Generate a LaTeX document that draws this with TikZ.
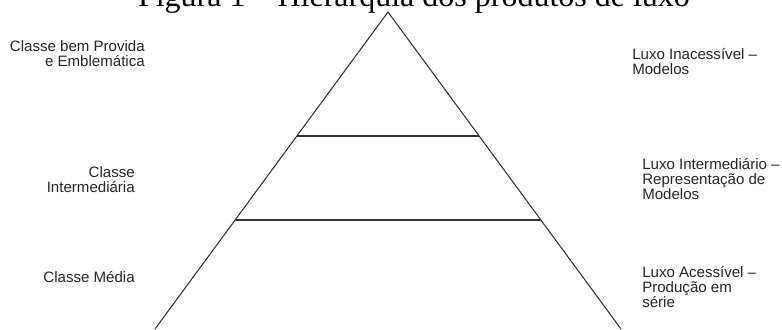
\documentclass[tikz,border=0pt]{standalone}
\usepackage{fontspec}
\setmainfont{Liberation Serif}
\newfontfamily\labfont{Liberation Sans}
\begin{document}
\begin{tikzpicture}[x=0.75pt,y=-0.75pt,
  lab/.style={font=\labfont\fontsize{11.3}{11.3}\selectfont,text=black!85,inner sep=0pt},
  labl/.style={lab,align=left,anchor=north west},
  labr/.style={lab,align=right,anchor=north east},
  edge/.style={draw=black!80,line width=0.8pt}]
\clip (0,0) rectangle (782,329);
\useasboundingbox (0,0) rectangle (782,329);
\node[font=\fontsize{24}{24}\selectfont,anchor=base,inner sep=0pt] (title) at (414,6) {Figura 1 – Hierarquia dos produtos de luxo};
\coordinate (A) at (388,12);
\coordinate (L1) at (297,136);
\coordinate (R1) at (479,136);
\coordinate (L2) at (235,220);
\coordinate (R2) at (541,220);
\coordinate (BL) at (155,329);
\coordinate (BR) at (621,329);
\draw[edge] (BL) -- (A) -- (BR);
\draw[edge] (L1) -- (R1);
\draw[edge] (L2) -- (R2);
\node[labr] (c1) at (145,40) {Classe bem Provida\\e Emblemática};
\node[labr] (c2) at (135,166) {Classe\\Intermediária};
\node[labr] (c3) at (135,271) {Classe Média};
\node[labl] (x1) at (632,48) {Luxo Inacessível –\\Modelos};
\node[labl] (x2) at (642,158) {Luxo Intermediário –\\Representação de\\Modelos};
\node[labl] (x3) at (642,266) {Luxo Acessível –\\Produção em\\série};
\end{tikzpicture}
\end{document}
